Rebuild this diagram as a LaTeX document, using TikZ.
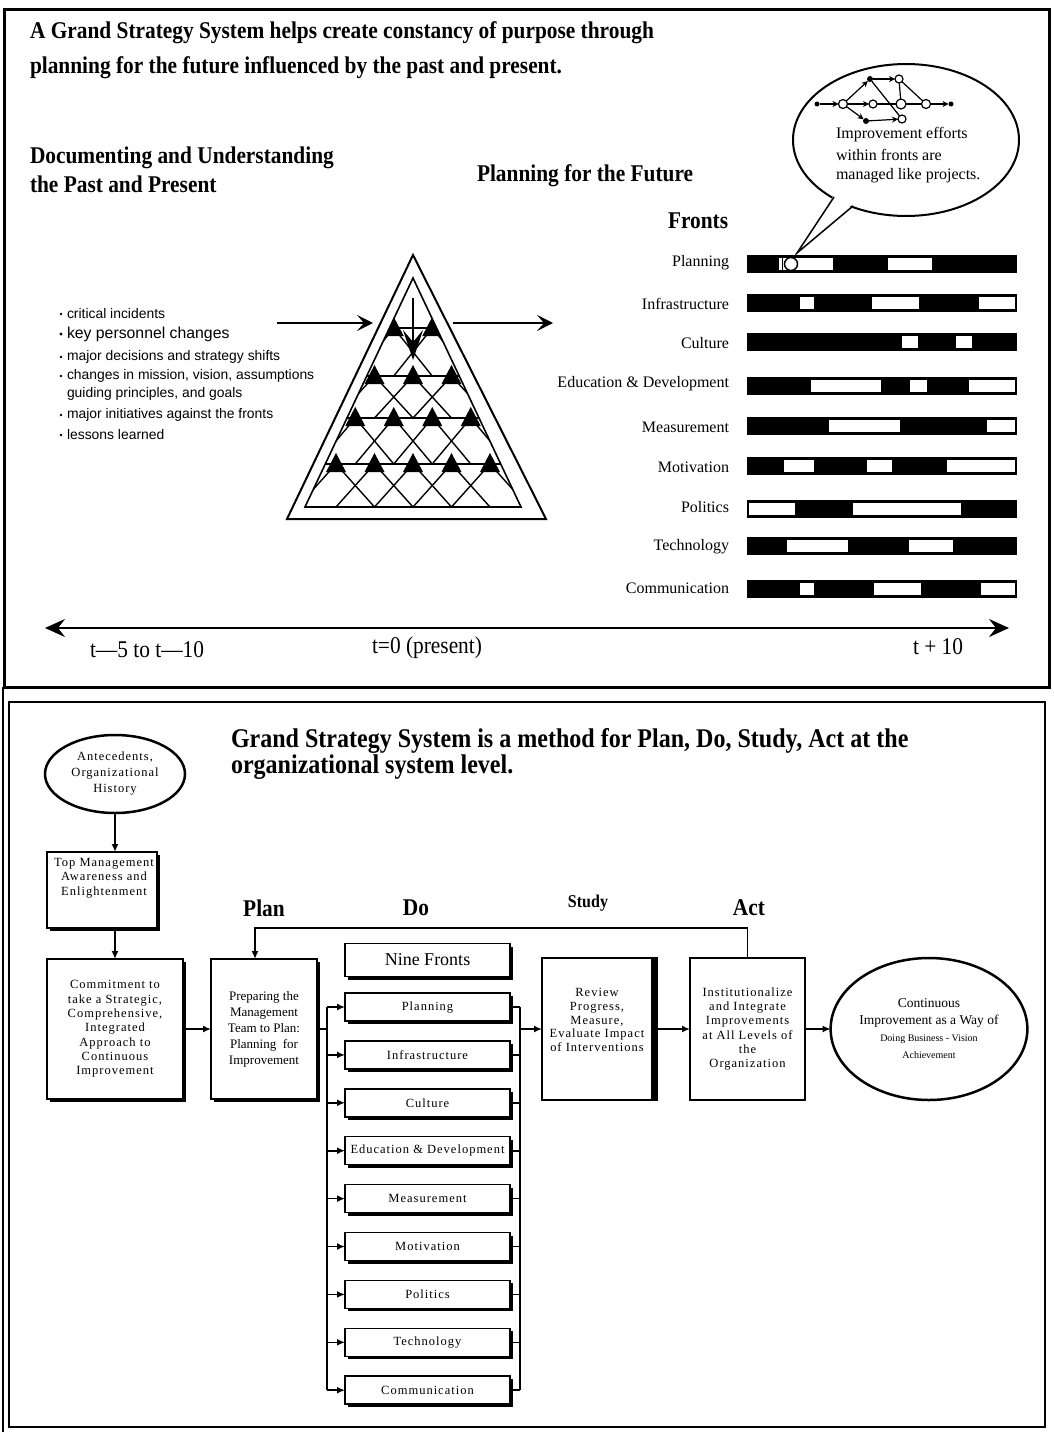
\documentclass[tikz,border=0pt]{standalone}
\usepackage{fontspec}
\setmainfont{Liberation Serif}
\newfontfamily\condfont[FakeStretch=0.89]{Liberation Serif}
\newfontfamily\listfont{Liberation Sans}
\newfontfamily\spacedfont[LetterSpace=8]{Liberation Serif}
\usetikzlibrary{arrows.meta,shapes.geometric,shadows}

\begin{document}
\begin{tikzpicture}[x=1pt,y=-1pt,
  every node/.style={inner sep=0pt,outer sep=0pt},
  heading/.style={font=\condfont\bfseries\fontsize{24}{28}\selectfont,anchor=west},
  bigtitle/.style={font=\condfont\bfseries\fontsize{27}{31}\selectfont,anchor=west},
  pdsa/.style={font=\condfont\bfseries\fontsize{24}{28}\selectfont},
  tlabel/.style={font=\condfont\fontsize{24}{28}\selectfont},
  frontlbl/.style={font=\fontsize{16}{19}\selectfont,anchor=east},
  bubbletxt/.style={font=\fontsize{16}{19}\selectfont,anchor=west},
  item/.style={font=\listfont\fontsize{13.9}{16}\selectfont,anchor=west},
  boxtxt/.style={font=\spacedfont\fontsize{12.5}{14.3}\selectfont,align=center},
  plaintxt/.style={font=\fontsize{13}{16}\selectfont,align=center},
  sbox/.style={draw,line width=1.5pt,fill=white,
    drop shadow={shadow xshift=3pt,shadow yshift=-3pt,fill=black,opacity=1}},
  pbox/.style={draw,line width=1.5pt,fill=white},
  flow/.style={line width=1.6pt,-{Latex[length=8pt,width=7pt]}},
  wire/.style={line width=1.6pt},
  bigarrow/.style={line width=1.5pt,-{Stealth[length=16pt,width=16pt,inset=7pt]}},
  netopen/.style={circle,draw,line width=1.2pt,fill=white,minimum size=8pt},
  netdot/.style={circle,fill=black,minimum size=6pt},
  netarr/.style={line width=1.2pt,-{Stealth[length=6pt,width=6pt]}},
  netline/.style={line width=1.2pt},
]
\useasboundingbox (0,0) rectangle (1053,1435);

% ---------- frames ----------
\draw[line width=3pt] (4,9) rectangle (1049,687);
\draw[line width=2pt] (9,702) rectangle (1045,1427);
\draw[line width=1.5pt] (3,687) -- (3,1432);

% ---------- upper panel headings ----------
\node[heading] (t1) at (30,33) {A Grand Strategy System helps create constancy of purpose through};
\node[heading] (t2) at (30,68) {planning for the future influenced by the past and present.};
\node[heading] (past1) at (30,158) {Documenting and Understanding};
\node[heading] (past2) at (30,184) {the Past and Present};
\node[heading] (future) at (477,176) {Planning for the Future};
\node[heading] (fronts) at (668,221) {Fronts};

% ---------- bullet list ----------
\foreach \y/\nm/\t in {314/b1/critical incidents,357/b3/major decisions and strategy shifts,
    376/b4/{changes in mission, vision, assumptions},415/b6/major initiatives against the fronts,
    435/b7/lessons learned}{
  \fill (61,\y) circle (1.4pt);
  \node[item] (\nm) at (67,\y) {\t};
}
\fill (61,334) circle (1.7pt);
\node[item,font=\listfont\fontsize{15.8}{18}\selectfont] (b2) at (67,334) {key personnel changes};
\node[item] (b5) at (67,394) {guiding principles, and goals};

% ---------- pyramid ----------
\draw[line width=2pt,line join=miter] (413,255) -- (546,519) -- (287,519) -- cycle;
\draw[line width=1.6pt] (413,278) -- (521,507) -- (305,507) -- cycle;
\begin{scope}
  \clip (413,278) -- (521,507) -- (305,507) -- cycle;
  \foreach \y in {328,376,418,464}
    \draw[line width=1.4pt] (300,\y) -- (526,\y);
  \foreach \y/\yn/\xs in {328/376/{393.75,432.25},376/418/{374.5,413,451.5},
      418/464/{355.25,393.75,432.25,470.75},464/507/{336,374.5,413,451.5,490}}{
    \foreach \x in \xs {
      \draw[line width=1.4pt] (\x-38.5,\yn) -- (\x,\y) -- (\x+38.5,\yn);
      \fill (\x,\y-11) -- (\x+10,\y+8) -- (\x-10,\y+8) -- cycle;
    }
  }
\end{scope}
\draw[line width=1.3pt,-{Stealth[length=30pt,width=20pt,inset=12pt]}] (413,298) -- (413,360);
\coordinate (inL) at (277,323);
\coordinate (inR) at (373,323);
\coordinate (outL) at (453,323);
\coordinate (outR) at (553,323);
\draw[bigarrow] (inL) -- (inR);
\draw[bigarrow] (outL) -- (outR);

% ---------- fronts and their bars ----------
\foreach \y/\nm/\t in {263/lp/Planning,304/li/Infrastructure,343/lc/Culture,
    384/le/Education \& Development,427/lm/Measurement,467/lmo/Motivation,
    507/lpo/Politics,547/lt/Technology,588/lco/Communication}
  \node[frontlbl] (\nm) at (729,\y) {\t};

\foreach \y/\segs in {264/{779/833,888/932},303/{800/814,872/919,979/1015},
    342/{902/918,956/972},386/{811/881,910/927,969/1015},426/{829/900,987/1015},
    466/{784/814,867/892,947/1015},509/{749/795,853/961},546/{787/848,909/953},
    589/{800/814,874/921,981/1015}}{
  \fill (747,\y-9) rectangle (1017,\y+9);
  \foreach \a/\b in \segs
    \fill[white] (\a,\y-6) rectangle (\b,\y+6);
}
\draw[line width=1pt] (782.5,258) -- (782.5,270);
\draw[line width=1.5pt,fill=white] (791,264) circle (6.5pt);

% ---------- speech bubble ----------
\draw[line width=2pt,fill=white] (906,140) ellipse [x radius=113pt,y radius=76pt];
\fill[white] (797,253) -- (834,195) -- (854,203) -- cycle;
\draw[line width=1.5pt] (834,197) -- (797,253) -- (853,206);
\node[bubbletxt] (bt1) at (836,135) {Improvement efforts};
\node[bubbletxt] (bt2) at (836,155) {within fronts are};
\node[bubbletxt] (bt3) at (836,176) {managed like projects.};

% project network inside the bubble
\node[netdot,minimum size=5pt] (na) at (817,104) {};
\node[netopen,minimum size=9pt] (nb) at (843,104) {};
\node[netopen] (nc) at (873,104) {};
\node[netopen,minimum size=10pt] (nd) at (901,104) {};
\node[netopen,minimum size=9pt] (ne) at (926,104) {};
\node[netdot,minimum size=5pt] (nf) at (951,104) {};
\node[netdot] (ng) at (870,79) {};
\node[netopen] (nh) at (899,79) {};
\node[netdot] (ni) at (866,121) {};
\node[netopen] (nj) at (902,119) {};
\draw[netarr] (na) -- (nb);
\draw[netarr] (nb) -- (ng);
\draw[netarr] (ng) -- (nh);
\draw[netarr] (nb) -- (nc);
\draw[netarr] (nb) -- (ni);
\draw[netline] (nc) -- (nd);
\draw[netline] (nd) -- (ne);
\draw[netarr] (ne) -- (nf);
\draw[netarr] (ni) -- (nj);
\draw[netline] (ng) -- (nj);
\draw[netline] (nh) -- (nd);
\draw[netline] (nh) -- (ne);

% ---------- time line ----------
\coordinate (tl) at (45,628);
\coordinate (tr) at (1009,628);
\draw[line width=2pt,{Stealth[length=20pt,width=18pt,inset=7pt]}-{Stealth[length=20pt,width=18pt,inset=7pt]}] (tl) -- (tr);
\node[tlabel] (tpast) at (147,650) {t\textemdash 5 to t\textemdash 10};
\node[tlabel] (tnow) at (427,648) {t=0 (present)};
\node[tlabel] (tfut) at (938,647) {t + 10};

% ---------- lower panel ----------
\node[bigtitle] (t3) at (231,741) {Grand Strategy System is a method for Plan, Do, Study, Act at the};
\node[bigtitle] (t4) at (231,767) {organizational system level.};

\node[pdsa] (plan) at (264,908) {Plan};
\node[pdsa] (do) at (416,908) {Do};
\node[font=\condfont\bfseries\fontsize{18}{20}\selectfont] (studyl) at (588,903) {Study};
\node[pdsa] (actl) at (749,908) {Act};

\node[pbox,ellipse,line width=2.5pt,minimum width=140pt,minimum height=78pt,
      boxtxt,font=\spacedfont\fontsize{12.5}{16}\selectfont] (ante) at (115,774)
      {Antecedents,\\Organizational\\History};
\node[sbox,minimum width=110pt,minimum height=76pt] (topm) at (102,890) {};
\node[boxtxt] (topmtxt) at (104,878) {Top Management\\Awareness and\\Enlightenment};
\node[sbox,minimum width=136pt,minimum height=140pt,boxtxt] (commit) at (115,1029)
  {Commitment to\\take a Strategic,\\Comprehensive,\\Integrated\\Approach to\\Continuous\\Improvement};
\node[sbox,minimum width=106pt,minimum height=140pt,plaintxt] (prep) at (264,1029)
  {Preparing the\\Management\\Team to Plan:\\Planning\ \ for\\Improvement};

\node[sbox,minimum width=165pt,minimum height=33pt,font=\fontsize{18}{20}\selectfont] (nine) at (427.5,960) {Nine Fronts};
\foreach \i/\t in {0/Planning,1/Infrastructure,2/Culture,3/Education \& Development,
    4/Measurement,5/Motivation,6/Politics,7/Technology,8/Communication}
  \node[sbox,minimum width=165pt,minimum height=28pt,boxtxt] (f\i) at (427.5,{1007+47.9*\i}) {\t};

\node[pbox,minimum width=115pt,minimum height=142pt] (study) at (599.5,1029) {};
\fill ([xshift=-6pt]study.north east) rectangle (study.south east);
\node[boxtxt,font=\spacedfont\fontsize{12.5}{13.7}\selectfont] (studytxt) at (597,1020)
  {Review\\Progress,\\Measure,\\Evaluate Impact\\of Interventions};
\node[pbox,minimum width=115pt,minimum height=142pt,boxtxt] (act) at (747.5,1029)
  {Institutionalize\\and Integrate\\Improvements\\at All Levels of\\the\\Organization};
\node[pbox,ellipse,line width=2.5pt,minimum width=184pt,minimum height=142pt,align=center,
      font=\fontsize{13.5}{17}\selectfont] (goal) at (929,1029)
  {Continuous\\Improvement as a Way of\\\fontsize{10}{16}\selectfont Doing Business - Vision\\\fontsize{10}{16}\selectfont Achievement};

% connectors
\draw[flow] (ante.south) -- (ante.south |- topm.north);
\draw[flow] (commit.north |- topm.south) -- (commit.north);
\draw[flow] (commit.east) -- (prep.west);
\coordinate (busL) at (327,1029);
\coordinate (busR) at (520,1029);
\draw[wire] (prep.east) -- (busL);
\draw[wire] (busL |- f0.west) -- (busL |- f8.west);
\foreach \i in {0,...,8}
  \draw[flow] (busL |- f\i.west) -- (f\i.west);
\foreach \i in {0,...,8}
  \draw[wire] (f\i.east) -- (busR |- f\i.east);
\draw[wire] (busR |- f0.east) -- (busR |- f8.east);
\draw[flow] (busR) -- (study.west);
\draw[flow] (study.east) -- (act.west);
\draw[flow] (act.east) -- (goal.west);
\coordinate (loopL) at (255,928);
\draw[flow] (act.north) |- (loopL) -- (loopL |- prep.north);

\end{tikzpicture}
\end{document}
